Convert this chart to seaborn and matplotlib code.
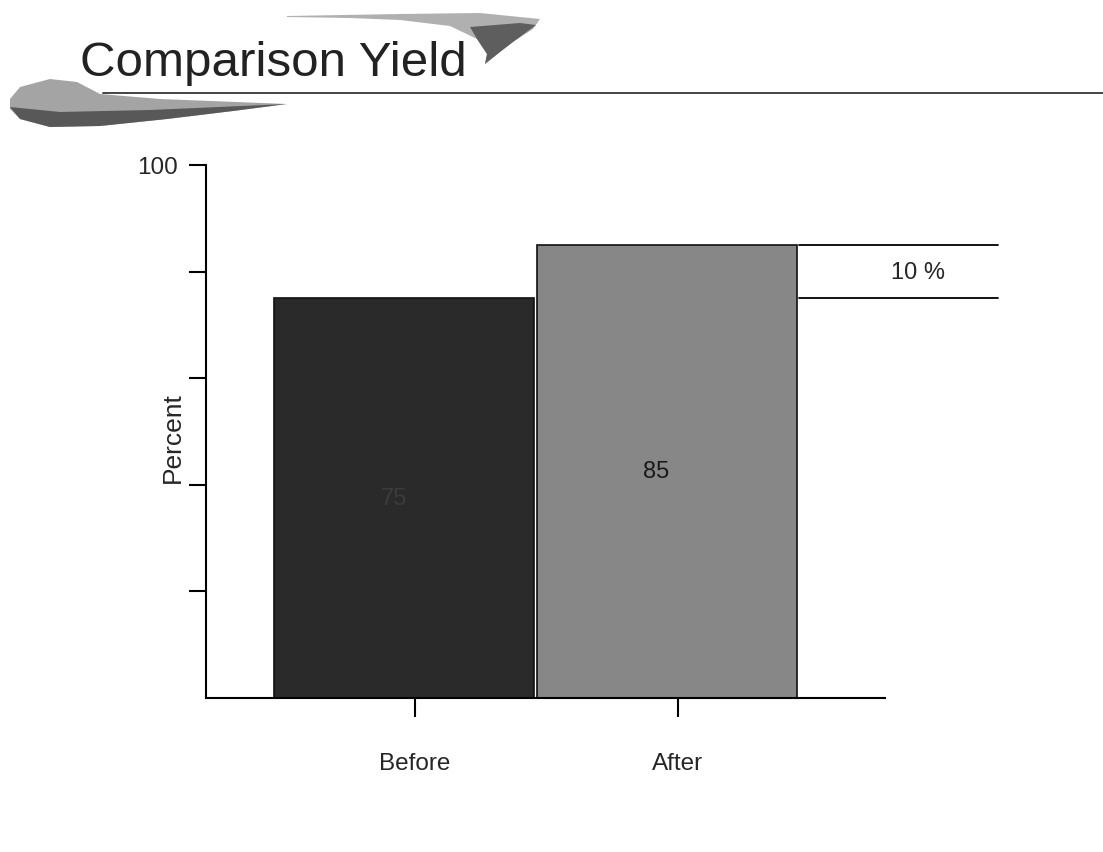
import matplotlib
matplotlib.use("Agg")
import matplotlib.pyplot as plt
import seaborn as sns
import pandas as pd
from matplotlib.patches import Polygon

categories = ["Before", "After"]
values = [75, 85]
bar_colors = ["#2a2a2a", "#878787"]
ytick_values = [20, 40, 60, 80, 100]
ytick_labels = ["", "", "", "", "100"]
diff_label = "10 %"

sns.set_theme(style="white")
plt.rcParams["font.family"] = ["Liberation Sans", "DejaVu Sans"]

W, H = 1103, 853
fig = plt.figure(figsize=(W / 100, H / 100), dpi=100)
ax = fig.add_axes([0.1868, 0.1805, 0.6156, 0.6249])

df = pd.DataFrame({"cat": categories, "val": values})
sns.barplot(data=df, x="cat", y="val", hue="cat", palette=bar_colors,
            width=0.99, edgecolor="#111111", linewidth=1.2, legend=False, ax=ax)

ax.set_ylim(0, 100)
ax.set_xlim(-0.753, 1.829)
ax.set_yticks(ytick_values)
ax.set_yticklabels(ytick_labels, fontsize=17.5)
ax.set_xticks([i + 0.04 for i in range(len(categories))])
ax.set_xticklabels(categories, fontsize=17.5)
ax.tick_params(axis="y", direction="out", length=12, width=1.5, color="black", pad=8, left=True)
ax.tick_params(axis="x", direction="out", length=14, width=1.5, color="black", pad=25, bottom=True)
ax.set_xlabel("")
ax.set_ylabel("Percent", fontsize=19)
ax.yaxis.set_label_coords(-0.031, 0.49)
for s in ["top", "right"]:
    ax.spines[s].set_visible(False)
for s in ["left", "bottom"]:
    ax.spines[s].set_color("black")
    ax.spines[s].set_linewidth(1.5)

# value labels
for i, v in enumerate(values):
    ax.text(i - 0.04, v / 2, str(v), ha="center", va="center", fontsize=17,
            color="#3c3c3c" if i == 0 else "#1a1a1a")

# difference bracket lines
x0 = 1.5
x1 = 2.259
for v in values:
    ax.plot([x0, x1], [v, v], color="black", lw=1.3, clip_on=False)
ax.text(1.954, (values[0] + values[1]) / 2, diff_label, ha="center", va="center",
        fontsize=17, clip_on=False)

# title and decoration
fig.text(80 / W, 1 - 76 / H, "Comparison Yield", fontsize=35.5, color="#222222",
         ha="left", va="baseline")
fig.add_artist(plt.Line2D([103 / W, 1.0], [1 - 94 / H, 1 - 94 / H],
                          color="#444444", lw=1.4))


def px(points):
    return [[x / W, 1 - y / H] for x, y in points]


lower_pts = [(10, 100), (20, 88), (50, 80), (77, 83), (100, 95), (160, 100),
             (287, 105), (233, 112), (167, 120), (100, 127), (50, 128),
             (20, 120), (10, 110)]
lower_dark = [(10, 108), (60, 113), (150, 111), (287, 105), (233, 112),
              (167, 120), (100, 127), (50, 128), (20, 120)]
upper_pts = [(287, 17), (400, 15), (480, 14), (540, 20), (533, 30), (513, 43),
             (500, 53), (485, 65), (487, 55), (477, 40), (450, 27), (400, 21),
             (350, 19), (287, 18)]
upper_dark = [(470, 28), (520, 24), (536, 26), (513, 43), (500, 53), (485, 65),
              (487, 55), (477, 40)]
for pts, col in [(lower_pts, "#9a9a9a"), (lower_dark, "#505050"),
                 (upper_pts, "#a8a8a8"), (upper_dark, "#555555")]:
    fig.add_artist(Polygon(px(pts), closed=True, transform=fig.transFigure,
                           facecolor=col, edgecolor="none", alpha=0.9))

fig.savefig("out.png", dpi=100)
